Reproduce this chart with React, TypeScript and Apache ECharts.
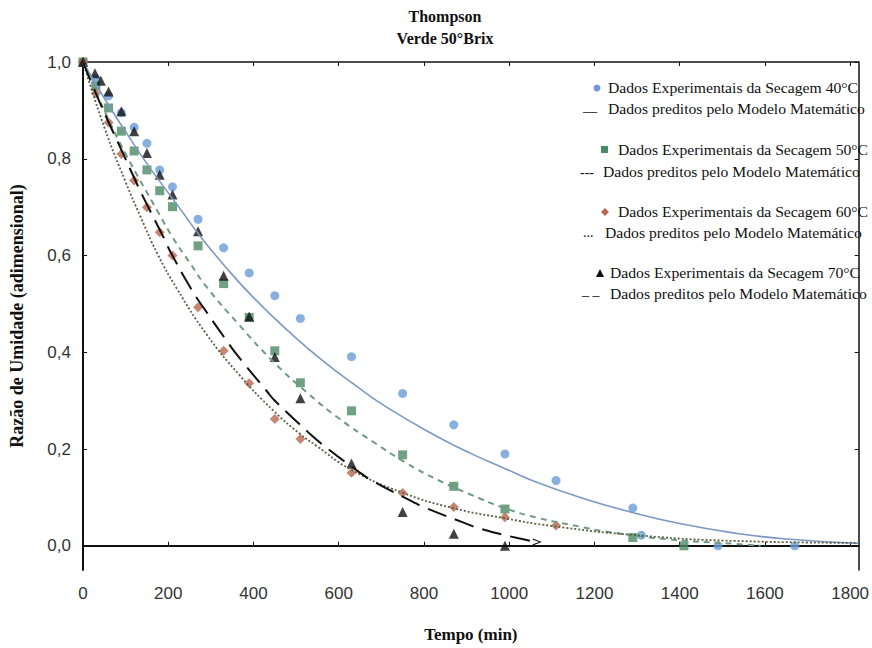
import React, { useEffect, useRef } from "react";
import * as echarts from "echarts";

// Experimental data: [time (min), moisture ratio]
const exp40: [number, number][] = [
  [0, 1.0], [30, 0.965], [60, 0.93], [90, 0.895], [120, 0.865], [150, 0.832], [180, 0.777], [210, 0.742],
  [270, 0.675], [330, 0.616], [390, 0.564], [450, 0.517], [510, 0.47], [630, 0.391],
  [750, 0.315], [870, 0.25], [990, 0.19], [1110, 0.135], [1290, 0.078], [1310, 0.022],
  [1490, 0.0], [1670, 0.0],
];
const exp50: [number, number][] = [
  [0, 1.0], [30, 0.95], [60, 0.905], [90, 0.857], [120, 0.816], [150, 0.777], [180, 0.734],
  [210, 0.701], [270, 0.62], [330, 0.542], [390, 0.472], [450, 0.403], [510, 0.337],
  [630, 0.279], [750, 0.188], [870, 0.123], [990, 0.076], [1290, 0.017], [1410, 0.0],
];
const exp60: [number, number][] = [
  [0, 1.0], [30, 0.935], [60, 0.875], [90, 0.81], [120, 0.755], [150, 0.70], [180, 0.648],
  [210, 0.6], [270, 0.493], [330, 0.403], [390, 0.336], [450, 0.262], [510, 0.221],
  [630, 0.151], [750, 0.109], [870, 0.08], [990, 0.059], [1110, 0.042],
];
const exp70: [number, number][] = [
  [0, 1.0], [28, 0.977], [42, 0.961], [60, 0.939], [90, 0.898], [120, 0.857], [150, 0.812],
  [180, 0.767], [210, 0.726], [270, 0.65], [330, 0.558], [390, 0.474], [450, 0.39],
  [510, 0.305], [630, 0.17], [750, 0.07], [870, 0.025], [990, 0.0],
];

// Model (predicted) curves
const model40: [number, number][] = [
  [0, 1.0], [50, 0.925], [100, 0.856], [150, 0.79], [225, 0.70], [275, 0.64], [330, 0.581],
  [400, 0.513], [484, 0.442], [563, 0.382], [640, 0.331], [717, 0.284], [833, 0.225],
  [912, 0.19], [989, 0.16], [1066, 0.131], [1174, 0.098], [1284, 0.07], [1400, 0.046],
  [1531, 0.026], [1650, 0.014], [1820, 0.005],
];
const model50: [number, number][] = [
  [0, 1.0], [50, 0.9], [100, 0.81], [178, 0.687], [210, 0.638], [252, 0.583], [291, 0.534],
  [368, 0.455], [446, 0.381], [524, 0.318], [601, 0.263], [679, 0.216], [757, 0.172],
  [833, 0.136], [912, 0.105], [989, 0.078], [1066, 0.058], [1175, 0.038], [1222, 0.03],
  [1377, 0.013], [1531, 0.004], [1590, 0.0],
];
const model60: [number, number][] = [
  [0, 1.0], [50, 0.865], [100, 0.752], [135, 0.68], [175, 0.603], [220, 0.532], [290, 0.437],
  [368, 0.352], [446, 0.28], [508, 0.232], [547, 0.207], [628, 0.158], [749, 0.11],
  [868, 0.078], [989, 0.057], [1100, 0.041], [1284, 0.023], [1531, 0.01], [1820, 0.006],
];
const model70: [number, number][] = [
  [0, 1.0], [40, 0.915], [86, 0.826], [123, 0.755], [144, 0.716], [191, 0.634], [205, 0.608],
  [256, 0.528], [290, 0.483], [337, 0.424], [361, 0.395], [431, 0.32], [449, 0.301],
  [528, 0.235], [558, 0.212], [644, 0.155], [682, 0.133], [772, 0.092], [802, 0.079],
  [896, 0.047], [926, 0.037], [1019, 0.016], [1066, 0.008],
];

const xTicks = [0, 200, 400, 600, 800, 1000, 1200, 1400, 1600, 1800];
const yTicks = [0, 0.2, 0.4, 0.6, 0.8, 1.0];

const legendExp = [
  "Dados Experimentais da Secagem 40°C",
  "Dados Experimentais da Secagem 50°C",
  "Dados Experimentais da Secagem 60°C",
  "Dados Experimentais da Secagem 70°C",
];
const legendModel = "Dados preditos pelo Modelo Matemático";

const C40 = "#6a9cd6";
const C50 = "#4b8a63";
const C60 = "#b8664f";
const C70 = "#111111";
const L40 = "#7b98c4";
const L50 = "#6f9a84";
const L60 = "#5a6145";

const SERIF = "'Liberation Serif', 'DejaVu Serif', serif";
const SANS = "'Liberation Sans', Arial, sans-serif";

export default function App() {
  const ref = useRef<HTMLDivElement>(null);
  useEffect(() => {
    document.body.style.margin = "0";
    if (!ref.current) return;
    const chart = echarts.init(ref.current, null, { renderer: "svg" });

    const legendText = (x: number, y: number, text: string) => ({
      type: "text",
      x,
      y,
      scaleX: 1.12,
      style: { text, font: `14px ${SERIF}`, fill: "#111", textVerticalAlign: "middle" },
    });
    const legendGlyph = (x: number, y: number, text: string) => ({
      type: "text",
      x,
      y,
      style: { text, font: `14px ${SERIF}`, fill: "#111", textVerticalAlign: "middle" },
    });

    const lastIdx = model70.length - 1;
    const model70Data = model70.map((p, i) =>
      i === lastIdx
        ? { value: p, symbol: "path://M0,0 L10,4 L0,8 L0,6.6 L7,4 L0,1.4 Z", symbolSize: [9, 7] }
        : { value: p }
    );

    const option: any = {
      animation: false,
      backgroundColor: "#ffffff",
      title: {
        text: "Thompson\nVerde 50°Brix",
        left: 440,
        top: 0,
        textAlign: "center",
        textStyle: { fontFamily: SERIF, fontWeight: "bold", fontSize: 16, lineHeight: 22, color: "#111" },
      },
      grid: { left: 77, right: 12, top: 62, bottom: 72 },
      xAxis: [
        {
          type: "value",
          min: 0,
          max: 1820,
          name: "Tempo (min)",
          nameLocation: "middle",
          nameGap: 56,
          nameTextStyle: { fontFamily: SERIF, fontWeight: "bold", fontSize: 17, color: "#111" },
          axisLine: { show: true, lineStyle: { color: "#111", width: 2 } },
          axisTick: { show: true, inside: true, length: 4, customValues: xTicks, lineStyle: { color: "#111" } },
          axisLabel: {
            customValues: xTicks,
            fontFamily: SANS,
            fontSize: 17,
            color: "#333",
            margin: 15,
            formatter: (v: number) => String(v),
          },
          splitLine: { show: false },
        },
        {
          type: "value",
          min: 0,
          max: 1820,
          position: "top",
          axisLine: { show: true, onZero: false, lineStyle: { color: "#111", width: 1.5 } },
          axisTick: { show: true, inside: true, length: 4, customValues: xTicks, lineStyle: { color: "#111" } },
          axisLabel: { show: false },
          splitLine: { show: false },
        },
      ],
      yAxis: [
        {
          type: "value",
          min: -0.05,
          max: 1.0,
          name: "Razão de Umidade (adimensional)",
          nameLocation: "middle",
          nameGap: 57,
          nameTextStyle: { fontFamily: SERIF, fontWeight: "bold", fontSize: 18, color: "#111" },
          axisLine: { show: true, onZero: false, lineStyle: { color: "#111", width: 2 } },
          axisTick: { show: true, inside: true, length: 4, customValues: yTicks, lineStyle: { color: "#111" } },
          axisLabel: {
            customValues: yTicks,
            fontFamily: SANS,
            fontSize: 17,
            color: "#333",
            margin: 12,
            formatter: (v: number) => v.toFixed(1).replace(".", ","),
          },
          splitLine: { show: false },
        },
        {
          type: "value",
          min: -0.05,
          max: 1.0,
          position: "right",
          axisLine: { show: true, onZero: false, lineStyle: { color: "#111", width: 1.5 } },
          axisTick: { show: true, inside: true, length: 4, customValues: yTicks, lineStyle: { color: "#111" } },
          axisLabel: { show: false },
          splitLine: { show: false },
        },
      ],
      series: [
        { type: "scatter", data: exp40, symbol: "circle", symbolSize: 9, itemStyle: { color: C40 }, z: 2 },
        { type: "scatter", data: exp50, symbol: "rect", symbolSize: 9, itemStyle: { color: C50 }, z: 2 },
        { type: "scatter", data: exp60, symbol: "diamond", symbolSize: 10, itemStyle: { color: C60 }, z: 2 },
        { type: "scatter", data: exp70, symbol: "triangle", symbolSize: 10, itemStyle: { color: C70 }, z: 3 },
        {
          type: "line",
          data: model40,
          smooth: 0.5,
          symbol: "none",
          lineStyle: { color: L40, width: 1.6, type: "solid" },
          z: 4,
        },
        {
          type: "line",
          data: model50,
          smooth: 0.5,
          symbol: "none",
          lineStyle: { color: L50, width: 2, type: [6, 5] },
          z: 4,
        },
        {
          type: "line",
          data: model60,
          smooth: 0.5,
          symbol: "none",
          lineStyle: { color: L60, width: 1.8, type: [2, 2] },
          z: 4,
        },
        {
          type: "line",
          data: model70Data,
          smooth: 0.5,
          symbol: "none",
          showSymbol: true,
          itemStyle: { color: "#111" },
          lineStyle: { color: "#111", width: 2, type: [20, 9] },
          z: 5,
        },
      ],
      graphic: [
        { type: "circle", shape: { cx: 597, cy: 88, r: 3.5 }, style: { fill: C40 } },
        legendText(608, 88, legendExp[0]),
        legendGlyph(583, 106, "__"),
        legendText(608, 109, legendModel),

        { type: "rect", shape: { x: 601, y: 146, width: 7, height: 7 }, style: { fill: C50 } },
        legendText(618, 150, legendExp[1]),
        legendGlyph(580, 172, "---"),
        legendText(603, 172, legendModel),

        { type: "polygon", shape: { points: [[605, 208], [609, 212], [605, 216], [601, 212]] }, style: { fill: C60 } },
        legendText(618, 212, legendExp[2]),
        legendGlyph(583, 232, "..."),
        legendText(605, 233, legendModel),

        { type: "polygon", shape: { points: [[600, 269], [604, 277], [596, 277]] }, style: { fill: C70 } },
        legendText(610, 273, legendExp[3]),
        legendGlyph(582, 290, "_ _"),
        legendText(610, 294, legendModel),
      ],
    };

    chart.setOption(option);
    return () => chart.dispose();
  }, []);

  return <div ref={ref} style={{ width: 872, height: 648 }} />;
}
